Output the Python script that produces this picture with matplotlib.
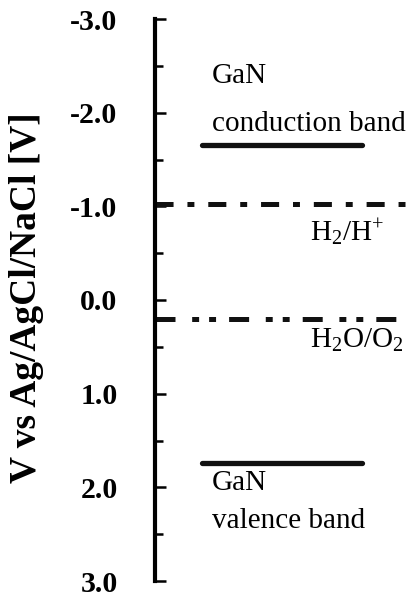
import matplotlib
matplotlib.use("Agg")
import matplotlib.pyplot as plt
from matplotlib.ticker import MultipleLocator

plt.rcParams['font.family'] = ['Liberation Serif', 'DejaVu Serif']
plt.rcParams['mathtext.fontset'] = 'custom'
plt.rcParams['mathtext.rm'] = 'Liberation Serif'
plt.rcParams['mathtext.default'] = 'rm'
plt.rcParams['lines.scale_dashes'] = False

# Data
band_names = ["GaN\nconduction band", "GaN\nvalence band"]
band_levels = [-1.66, 1.74]
redox_names = [r"$\mathrm{H_2/H^{+}}$", r"$\mathrm{H_2O/O_2}$"]
redox_levels = [-1.03, 0.20]
ytick_vals = [-3.0, -2.0, -1.0, 0.0, 1.0, 2.0, 3.0]
ytick_labels = ["-3.0", "-2.0", "-1.0", "0.0", "1.0", "2.0", "3.0"]
ylabel = "V vs Ag/AgCl/NaCl [V]"

W, H = 409, 596
fig = plt.figure(figsize=(W / 100, H / 100), dpi=100)
ax = fig.add_axes([155 / W, 1 - 581 / H, 1 - 155 / W, (581 - 19) / H])
ax.set_xlim(0, 1)
ax.set_ylim(3.0, -3.0)

for s in ['top', 'right', 'bottom']:
    ax.spines[s].set_visible(False)
ax.spines['left'].set_linewidth(3.0)
ax.set_xticks([])
ax.set_yticks(ytick_vals)
ax.set_yticklabels(ytick_labels, fontsize=21.5, fontweight='bold')
ax.yaxis.set_minor_locator(MultipleLocator(0.5))
ax.tick_params(axis='y', which='major', direction='in', length=8, width=1.8, pad=27)
ax.tick_params(axis='y', which='minor', direction='in', length=5.5, width=1.8)

# Band edges (solid)
for y in band_levels:
    ax.hlines(y, 0.185, 0.815, colors='#111111', linewidth=3.8, capstyle='round')

# Redox levels (dash-dot)
styles = [(0, (13, 10, 5, 10)), (0, (14.4, 12, 5, 7.2, 5, 9.4))]
for y, ls in zip(redox_levels, styles):
    ax.plot([0, 1], [y, y], color='#111111', linewidth=3.6, linestyle=ls,
            dash_capstyle='butt', clip_on=False)

fs = 21
# Conduction band label (above line)
ax.text(0.224, -2.32, band_names[0].split("\n")[0], fontsize=fs, ha='left', va='baseline')
ax.text(0.224, -1.80, band_names[0].split("\n")[1], fontsize=fs, ha='left', va='baseline')
# Valence band label (below line)
ax.text(0.224, 2.03, band_names[1].split("\n")[0], fontsize=fs, ha='left', va='baseline')
ax.text(0.224, 2.43, band_names[1].split("\n")[1], fontsize=fs, ha='left', va='baseline')
# Redox labels
ax.text(0.61, -0.625, redox_names[0], fontsize=fs, ha='left', va='baseline')
ax.text(0.61, 0.515, redox_names[1], fontsize=fs, ha='left', va='baseline')

fig.text(27 / W, 1 - 298 / H, ylabel, rotation=90, ha='center', va='center',
         fontsize=27, fontweight='bold')

fig.savefig("out.png", dpi=100)
